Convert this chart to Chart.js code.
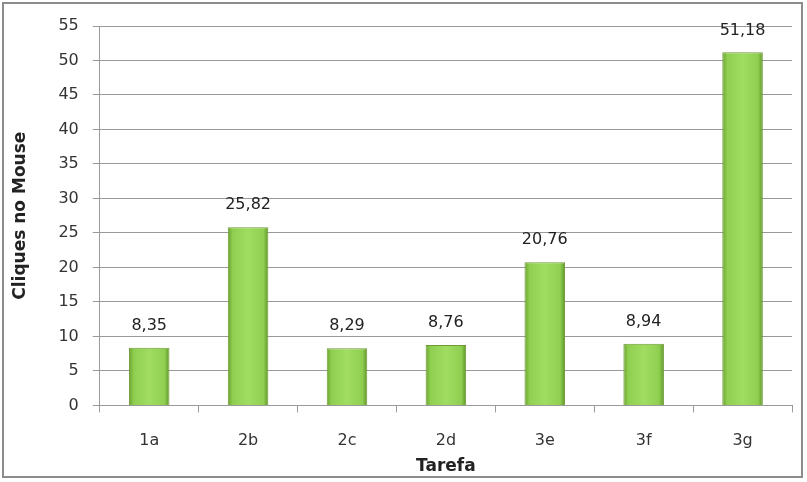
<!DOCTYPE html>
<html>
<head>
<meta charset="utf-8">
<script src="https://cdn.jsdelivr.net/npm/chart.js@4/dist/chart.umd.min.js"></script>
<style>
  body { margin: 0; background: #fff; }
  #frame { position: absolute; left: 2px; top: 2px; width: 801px; height: 476px; border: 2px solid #8c8c8c; box-sizing: border-box; }
  #wrap { position: absolute; left: 0; top: 0; width: 807px; height: 482px; }
</style>
</head>
<body>
<div id="frame"></div>
<div id="wrap"><canvas id="myChart"></canvas></div>
<script>
const tarefas = ['1a', '2b', '2c', '2d', '3e', '3f', '3g'];
const cliques = [8.35, 25.82, 8.29, 8.76, 20.76, 8.94, 51.18];

function fmt(v) {
    return v.toFixed(2).replace('.', ',');
}

const valueLabels = {
    id: 'valueLabels',
    afterDatasetsDraw(chart) {
        const ctx = chart.ctx;
        const meta = chart.getDatasetMeta(0);
        ctx.save();
        ctx.font = '16px "DejaVu Sans", sans-serif';
        ctx.fillStyle = '#222';
        ctx.textAlign = 'center';
        ctx.textBaseline = 'middle';
        meta.data.forEach(function(bar, i) {
            ctx.fillText(fmt(cliques[i]), bar.x, bar.y - 22);
        });
        ctx.restore();
    }
};

document.addEventListener('DOMContentLoaded', function() {
    const ctx = document.getElementById('myChart');

    new Chart(ctx, {
        type: 'bar',
        data: {
            labels: tarefas,
            datasets: [{
                label: 'Cliques no Mouse',
                data: cliques,
                backgroundColor: function(c) {
                    const chart = c.chart;
                    const xs = chart.scales.x;
                    if (!chart.chartArea || !xs || c.dataIndex === undefined) return '#92d050';
                    const cx = xs.getPixelForValue(c.dataIndex);
                    const w = chart.chartArea.width / tarefas.length * 0.41;
                    const g = chart.ctx.createLinearGradient(cx - w / 2, 0, cx + w / 2, 0);
                    g.addColorStop(0, '#6aa22e');
                    g.addColorStop(0.12, '#8fcf50');
                    g.addColorStop(0.5, '#a0dd62');
                    g.addColorStop(0.88, '#8fcf50');
                    g.addColorStop(1, '#5f9428');
                    return g;
                },
                borderColor: '#6e9a37',
                borderWidth: 1,
                categoryPercentage: 1,
                barPercentage: 0.41
            }]
        },
        plugins: [valueLabels],
        options: {
            responsive: true,
            maintainAspectRatio: false,
            animation: false,
            layout: { padding: { top: 26, right: 15, left: 10, bottom: 5 } },
            plugins: {
                legend: { display: false },
                tooltip: { enabled: false }
            },
            scales: {
                y: {
                    min: 0,
                    max: 55,
                    ticks: { stepSize: 5, color: '#333', font: { size: 16, family: '"DejaVu Sans", sans-serif' }, padding: 14 },
                    grid: { color: '#9a9a9a', tickLength: 7, drawTicks: true },
                    border: { color: '#9a9a9a' },
                    title: { display: true, text: 'Cliques no Mouse', color: '#222', font: { size: 17, weight: 'bold', family: '"DejaVu Sans", sans-serif' }, padding: { top: 0, bottom: 14 } }
                },
                x: {
                    ticks: { color: '#333', font: { size: 16, family: '"DejaVu Sans", sans-serif' }, padding: 19 },
                    grid: { display: true, drawOnChartArea: false, offset: true, color: '#9a9a9a', tickLength: 7 },
                    border: { color: '#9a9a9a' },
                    title: { display: true, text: 'Tarefa', color: '#222', font: { size: 17, weight: 'bold', family: '"DejaVu Sans", sans-serif' }, padding: { top: -13, bottom: 0 } }
                }
            }
        }
    });
});
</script>
</body>
</html>
